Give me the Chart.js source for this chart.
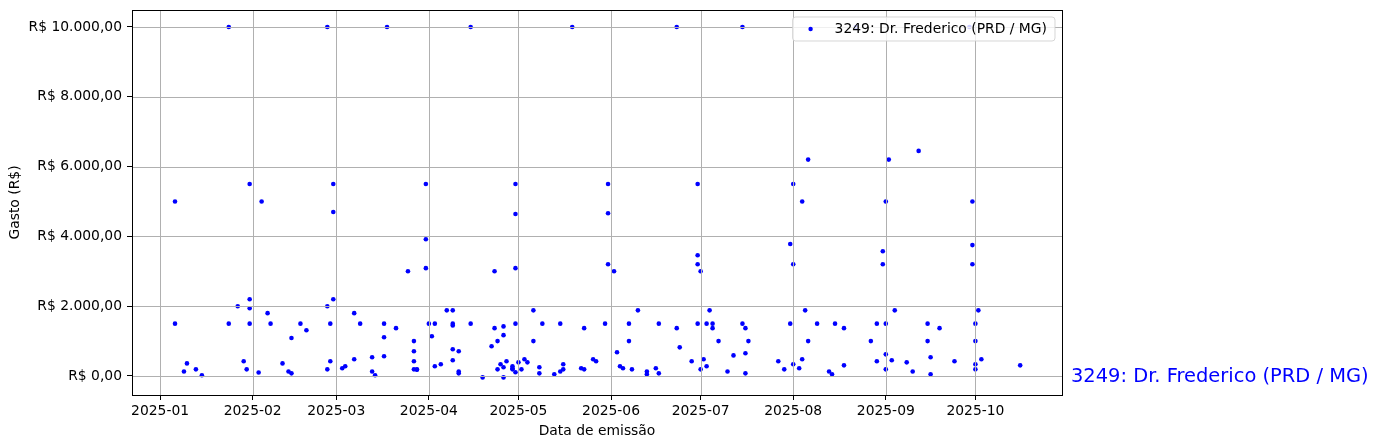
<!DOCTYPE html>
<html>
<head>
<meta charset="utf-8">
<script src="https://cdn.jsdelivr.net/npm/chart.js@4.4.1/dist/chart.umd.min.js"></script>
<style>
  html, body { margin: 0; padding: 0; background: #ffffff; }
  #c { display: block; }
</style>
</head>
<body>
<canvas id="c" width="1379" height="448"></canvas>
<script>
// ---- DATA ----
const seriesName = '3249: Dr. Frederico (PRD / MG)';
const dates = [
  '2025-01-06','2025-01-06','2025-01-09','2025-01-10','2025-01-13','2025-01-15','2025-01-24','2025-01-24',
  '2025-01-27','2025-01-29','2025-01-30','2025-01-31','2025-01-31','2025-01-31','2025-01-31',
  '2025-02-03','2025-02-04','2025-02-06','2025-02-07','2025-02-11','2025-02-13','2025-02-14','2025-02-14',
  '2025-02-17','2025-02-19','2025-02-26','2025-02-26','2025-02-26','2025-02-27','2025-02-27','2025-02-28',
  '2025-02-28','2025-02-28',
  '2025-03-03','2025-03-04','2025-03-07','2025-03-07','2025-03-09','2025-03-13','2025-03-13','2025-03-14',
  '2025-03-17','2025-03-17','2025-03-17','2025-03-18','2025-03-21','2025-03-25','2025-03-27','2025-03-27',
  '2025-03-27','2025-03-27','2025-03-28','2025-03-28','2025-03-31','2025-03-31','2025-03-31',
  '2025-04-01','2025-04-02','2025-04-03','2025-04-03','2025-04-05','2025-04-07','2025-04-09','2025-04-09',
  '2025-04-09','2025-04-09','2025-04-09','2025-04-11','2025-04-11','2025-04-11','2025-04-15','2025-04-15',
  '2025-04-19','2025-04-22','2025-04-23','2025-04-23','2025-04-24','2025-04-24','2025-04-25','2025-04-26',
  '2025-04-26','2025-04-26','2025-04-26','2025-04-27','2025-04-29','2025-04-29','2025-04-29','2025-04-30',
  '2025-04-30','2025-04-30','2025-04-30','2025-04-30',
  '2025-05-01','2025-05-02','2025-05-03','2025-05-04','2025-05-06','2025-05-06','2025-05-08','2025-05-08',
  '2025-05-09','2025-05-13','2025-05-15','2025-05-15','2025-05-16','2025-05-16','2025-05-19','2025-05-22',
  '2025-05-23','2025-05-23','2025-05-26','2025-05-27','2025-05-30','2025-05-31','2025-05-31','2025-05-31',
  '2025-06-02','2025-06-03','2025-06-04','2025-06-05','2025-06-07','2025-06-07','2025-06-08','2025-06-10',
  '2025-06-13','2025-06-13','2025-06-16','2025-06-17','2025-06-17','2025-06-23','2025-06-23','2025-06-24',
  '2025-06-28','2025-06-30','2025-06-30','2025-06-30','2025-06-30',
  '2025-07-01','2025-07-01','2025-07-02','2025-07-03','2025-07-03','2025-07-04','2025-07-05','2025-07-05',
  '2025-07-07','2025-07-10','2025-07-12','2025-07-15','2025-07-15','2025-07-16','2025-07-16','2025-07-16',
  '2025-07-17','2025-07-27','2025-07-29','2025-07-31','2025-07-31',
  '2025-08-01','2025-08-01','2025-08-01','2025-08-03','2025-08-04','2025-08-04','2025-08-05','2025-08-06',
  '2025-08-06','2025-08-09','2025-08-13','2025-08-14','2025-08-15','2025-08-18','2025-08-18','2025-08-22',
  '2025-08-27','2025-08-29','2025-08-29','2025-08-31','2025-08-31',
  '2025-09-01','2025-09-01','2025-09-01','2025-09-01','2025-09-02','2025-09-03','2025-09-04','2025-09-08',
  '2025-09-10','2025-09-12','2025-09-15','2025-09-15','2025-09-16','2025-09-16','2025-09-19','2025-09-24',
  '2025-09-29','2025-09-30','2025-09-30','2025-09-30',
  '2025-10-01','2025-10-01','2025-10-01','2025-10-01','2025-10-02','2025-10-03','2025-10-16'
];
const values = [
  5000,1500,130,360,190,20,10000,1500,
  2000,420,190,5500,2200,1940,1500,
  100,5000,1800,1500,360,130,75,1090,
  1500,1310,10000,2000,190,1500,420,5500,
  4700,2200,
  220,280,1800,480,1500,130,535,20,
  1500,1110,565,10000,1370,3000,710,1000,
  420,190,190,180,5500,3920,3090,
  1500,1140,1500,280,335,1880,1880,1450,
  1500,765,450,710,130,75,10000,1500,
  -40,850,3000,1370,1000,190,335,1420,
  1170,250,-40,420,280,220,190,5500,
  4640,3090,1500,105,
  390,190,480,390,1880,1000,250,75,
  1500,50,1500,130,190,335,10000,220,
  190,1370,480,420,1500,5500,4665,3200,
  3000,680,280,220,1500,1000,190,1880,
  130,50,220,75,1500,10000,1370,820,
  420,5500,3460,3200,1500,
  3000,190,480,1500,280,1880,1500,1370,
  1000,130,590,10000,1500,1370,650,75,
  1000,420,190,3780,1500,
  5500,3200,335,220,5000,480,1880,6200,
  1000,1500,130,50,1500,1370,305,10000,
  1000,1500,420,3575,3200,
  5000,1500,620,190,6200,450,1880,390,
  130,6450,1500,1000,535,50,1370,420,
  10000,5000,3750,3200,
  1500,1000,335,190,1880,480,305
];
const monthTickDates = ['2025-01-01','2025-02-01','2025-03-01','2025-04-01','2025-05-01','2025-06-01','2025-07-01','2025-08-01','2025-09-01','2025-10-01'];
const monthTickLabels = ['2025-01','2025-02','2025-03','2025-04','2025-05','2025-06','2025-07','2025-08','2025-09','2025-10'];
const yTickValues = [0, 2000, 4000, 6000, 8000, 10000];
const yTickLabels = ['R$ 0,00','R$ 2.000,00','R$ 4.000,00','R$ 6.000,00','R$ 8.000,00','R$ 10.000,00'];
const xTitle = 'Data de emissão';
const yTitle = 'Gasto (R$)';

// ---- helpers ----
const DAY0 = Date.UTC(2025, 0, 1);
function dayNum(s) { const p = s.split('-').map(Number); return (Date.UTC(p[0], p[1] - 1, p[2]) - DAY0) / 86400000; }
const monthTickDays = monthTickDates.map(dayNum);
const points = dates.map((d, i) => ({ x: dayNum(d), y: values[i] }));

const FONT = '"DejaVu Sans", "Liberation Sans", sans-serif';
const BLUE = '#0000ff';

const overlay = {
  id: 'overlay',
  afterDatasetsDraw(chart) {
    const { ctx, chartArea: a, scales: { x, y } } = chart;
    ctx.save();
    ctx.strokeStyle = '#b0b0b0';
    ctx.lineWidth = 1;
    monthTickDays.forEach(d => {
      const px = Math.round(x.getPixelForValue(d)) + 0.5;
      ctx.beginPath(); ctx.moveTo(px, a.top); ctx.lineTo(px, a.bottom); ctx.stroke();
    });
    yTickValues.forEach(v => {
      const py = Math.round(y.getPixelForValue(v)) + 0.5;
      ctx.beginPath(); ctx.moveTo(a.left, py); ctx.lineTo(a.right, py); ctx.stroke();
    });
    ctx.strokeStyle = '#000';
    ctx.lineWidth = 1;
    ctx.strokeRect(Math.round(a.left) + 0.5, Math.round(a.top) + 0.5, Math.round(a.right - a.left), Math.round(a.bottom - a.top));
    ctx.restore();
  },
  afterDraw(chart) {
    const { ctx, chartArea: a, scales: { y } } = chart;
    ctx.save();
    // legend box (upper right, inside axes)
    ctx.font = '13.89px ' + FONT;
    const tw = ctx.measureText(seriesName).width;
    const right = a.right - 7, top = a.top + 7;
    const w = tw + 50, h = 24;
    const left = right - w;
    const r = 3;
    ctx.beginPath();
    ctx.moveTo(left + r, top);
    ctx.lineTo(right - r, top); ctx.arcTo(right, top, right, top + r, r);
    ctx.lineTo(right, top + h - r); ctx.arcTo(right, top + h, right - r, top + h, r);
    ctx.lineTo(left + r, top + h); ctx.arcTo(left, top + h, left, top + h - r, r);
    ctx.lineTo(left, top + r); ctx.arcTo(left, top, left + r, top, r);
    ctx.closePath();
    ctx.fillStyle = 'rgba(255,255,255,0.8)';
    ctx.fill();
    ctx.strokeStyle = 'rgba(204,204,204,0.8)';
    ctx.lineWidth = 1;
    ctx.stroke();
    const cy = top + h / 2;
    ctx.fillStyle = BLUE;
    ctx.beginPath(); ctx.arc(left + 18, cy, 2.2, 0, Math.PI * 2); ctx.fill();
    ctx.fillStyle = '#000';
    ctx.textBaseline = 'middle';
    ctx.textAlign = 'left';
    ctx.fillText(seriesName, left + 42, cy);
    // right side label at y = 0
    ctx.font = '19.44px ' + FONT;
    ctx.fillStyle = BLUE;
    ctx.fillText(seriesName, a.right + 9, y.getPixelForValue(0) + 1);
    ctx.restore();
  }
};

new Chart(document.getElementById('c'), {
  type: 'scatter',
  data: {
    datasets: [{
      label: seriesName,
      data: points,
      backgroundColor: BLUE,
      borderColor: BLUE,
      borderWidth: 0,
      pointRadius: 2.3,
      pointHoverRadius: 2.3
    }]
  },
  options: {
    responsive: false,
    animation: false,
    devicePixelRatio: 1,
    layout: { padding: { left: 0, right: 317, top: 10, bottom: 0 } },
    plugins: { legend: { display: false }, tooltip: { enabled: false } },
    scales: {
      x: {
        type: 'linear',
        min: -9.4,
        max: 302.0,
        afterBuildTicks: s => { s.ticks = monthTickDays.map(v => ({ value: v })); },
        afterFit: s => { s.height = 53; s.paddingLeft = 0; s.paddingRight = 0; },
        ticks: {
          autoSkip: false, maxRotation: 0, minRotation: 0, padding: 3,
          color: '#000', font: { family: FONT, size: 13.89 },
          callback: (v, i) => monthTickLabels[i]
        },
        grid: { display: true, drawOnChartArea: false, drawTicks: true, tickLength: 5, tickColor: '#000', tickWidth: 1 },
        border: { display: false },
        title: { display: true, text: xTitle, color: '#000', font: { family: FONT, size: 13.89 }, padding: { top: 0, bottom: 8 } }
      },
      y: {
        type: 'linear',
        min: -545,
        max: 10487,
        afterBuildTicks: s => { s.ticks = yTickValues.map(v => ({ value: v })); },
        afterFit: s => { s.width = 132; s.paddingTop = 0; s.paddingBottom = 0; },
        ticks: {
          padding: 5,
          color: '#000', font: { family: FONT, size: 13.89 },
          callback: (v, i) => yTickLabels[i]
        },
        grid: { display: true, drawOnChartArea: false, drawTicks: true, tickLength: 5, tickColor: '#000', tickWidth: 1 },
        border: { display: false },
        title: { display: true, text: yTitle, color: '#000', font: { family: FONT, size: 13.89 }, padding: { top: 7, bottom: 0 } }
      }
    }
  },
  plugins: [overlay]
});
</script>
</body>
</html>
